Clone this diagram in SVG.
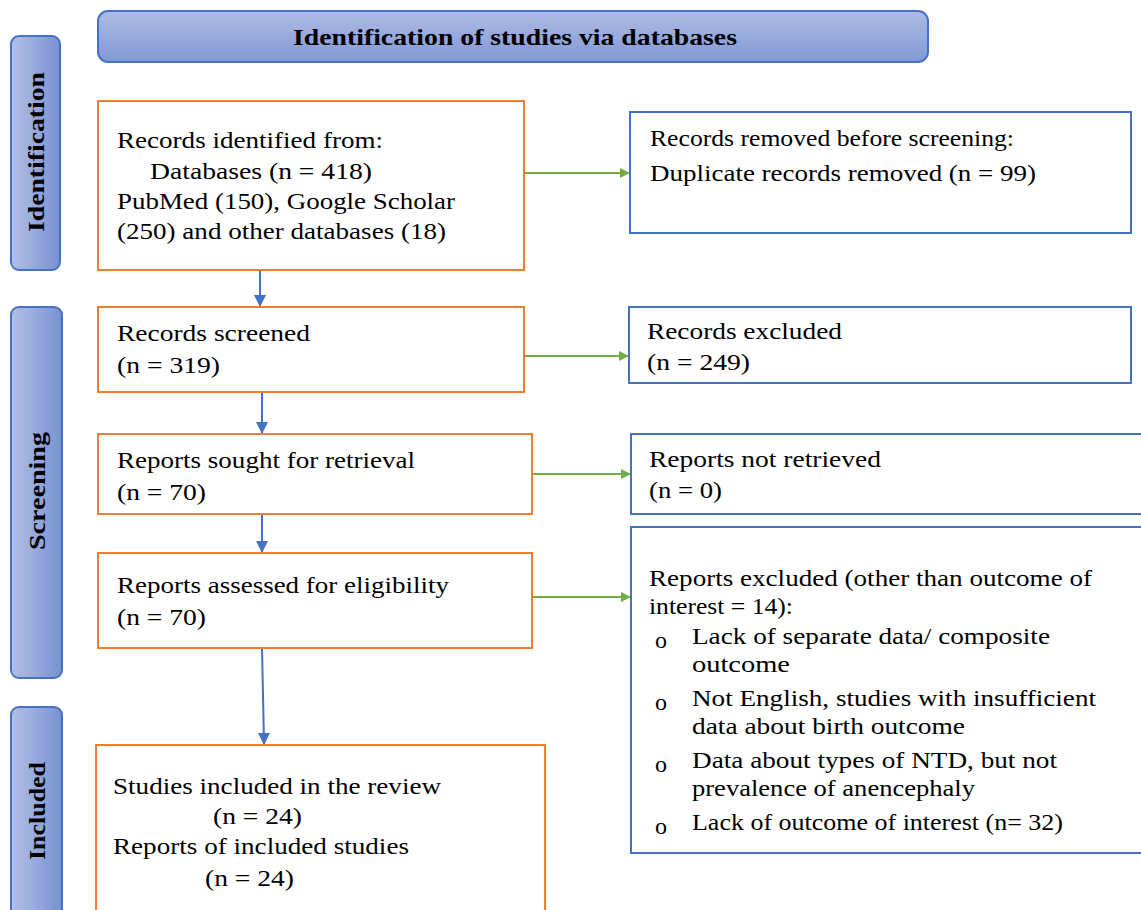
<svg xmlns="http://www.w3.org/2000/svg" width="1141" height="910" viewBox="0 0 1141 910">
<style>
.t{font-family:"Liberation Serif","Times New Roman",serif;font-size:24px;fill:#000}
.b{font-weight:bold}
.ob{fill:#fff;stroke:#ed7d31;stroke-width:2}
.bb{fill:#fff;stroke:#4472c4;stroke-width:2}
.side{fill:url(#gs);stroke:#4472c4;stroke-width:2}
.ga{stroke:#70ad47;stroke-width:2;fill:none;marker-end:url(#ag)}
.ba{stroke:#4472c4;stroke-width:2;fill:none;marker-end:url(#ab)}
</style>
<defs>
<linearGradient id="gs" x1="0" y1="0" x2="1" y2="0"><stop offset="0" stop-color="#b3c0e6"/><stop offset="1" stop-color="#7990d3"/></linearGradient>
<linearGradient id="gh" x1="0" y1="0" x2="0" y2="1"><stop offset="0" stop-color="#aebce4"/><stop offset="1" stop-color="#8197d6"/></linearGradient>
<marker id="ag" markerWidth="10" markerHeight="10" refX="9" refY="5" orient="auto" markerUnits="userSpaceOnUse"><path d="M0,0 L10,5 L0,10 Z" fill="#70ad47"/></marker>
<marker id="ab" markerWidth="12" markerHeight="12" refX="6" refY="11" orient="0" markerUnits="userSpaceOnUse"><path d="M0,0 L12,0 L6,12 Z" fill="#4472c4"/></marker>
</defs>
<rect width="1141" height="910" fill="#fff"/>
<g id="header"><rect x="98" y="11" width="830" height="51" rx="10" fill="url(#gh)" stroke="#4472c4" stroke-width="2"/><text class="t b" x="293" y="45" textLength="444" lengthAdjust="spacingAndGlyphs">Identification of studies via databases</text></g>
<g id="side-identification"><rect class="side" x="11" y="36" width="49" height="234" rx="8"/><text class="t b" transform="translate(44,232) rotate(-90)" textLength="160" lengthAdjust="spacingAndGlyphs">Identification</text></g>
<g id="side-screening"><rect class="side" x="11" y="307" width="51" height="371" rx="8"/><text class="t b" transform="translate(45,550) rotate(-90)" textLength="118" lengthAdjust="spacingAndGlyphs">Screening</text></g>
<g id="side-included"><rect class="side" x="11" y="707" width="51" height="220" rx="8"/><text class="t b" transform="translate(45,860) rotate(-90)" textLength="98" lengthAdjust="spacingAndGlyphs">Included</text></g>
<g id="connectors">
<line class="ga" x1="524" y1="173" x2="629" y2="173"/>
<line class="ga" x1="524" y1="356" x2="628" y2="356"/>
<line class="ga" x1="532" y1="474" x2="630" y2="474"/>
<line class="ga" x1="532" y1="597" x2="630" y2="597"/>
<line class="ba" x1="260" y1="270" x2="260" y2="306"/>
<line class="ba" x1="262" y1="392" x2="262" y2="433"/>
<line class="ba" x1="262" y1="514" x2="262" y2="552"/>
<line class="ba" x1="262" y1="648" x2="264" y2="744"/>
</g>
<g id="identified"><rect class="ob" x="98" y="101" width="426" height="169"/>
<text class="t" x="117" y="148" textLength="266" lengthAdjust="spacingAndGlyphs">Records identified from:</text>
<text class="t" x="150" y="179" textLength="222" lengthAdjust="spacingAndGlyphs">Databases (n = 418)</text>
<text class="t" x="117" y="209" textLength="338" lengthAdjust="spacingAndGlyphs">PubMed (150), Google Scholar</text>
<text class="t" x="117" y="239" textLength="329" lengthAdjust="spacingAndGlyphs">(250) and other databases (18)</text></g>
<g id="removed"><rect class="bb" x="630" y="112" width="501" height="121"/>
<text class="t" x="650" y="146" textLength="364" lengthAdjust="spacingAndGlyphs">Records removed before screening:</text>
<text class="t" x="650" y="181" textLength="386" lengthAdjust="spacingAndGlyphs">Duplicate records removed (n = 99)</text></g>
<g id="screened"><rect class="ob" x="98" y="307" width="426" height="85"/>
<text class="t" x="117" y="341" textLength="193" lengthAdjust="spacingAndGlyphs">Records screened</text>
<text class="t" x="117" y="373" textLength="103" lengthAdjust="spacingAndGlyphs">(n = 319)</text></g>
<g id="excluded"><rect class="bb" x="629" y="307" width="502" height="76"/>
<text class="t" x="647" y="339" textLength="195" lengthAdjust="spacingAndGlyphs">Records excluded</text>
<text class="t" x="647" y="370" textLength="103" lengthAdjust="spacingAndGlyphs">(n = 249)</text></g>
<g id="sought"><rect class="ob" x="98" y="434" width="434" height="80"/>
<text class="t" x="117" y="468" textLength="298" lengthAdjust="spacingAndGlyphs">Reports sought for retrieval</text>
<text class="t" x="117" y="500" textLength="89" lengthAdjust="spacingAndGlyphs">(n = 70)</text></g>
<g id="notretrieved"><rect class="bb" x="631" y="434" width="515" height="80"/>
<text class="t" x="649" y="467" textLength="232" lengthAdjust="spacingAndGlyphs">Reports not retrieved</text>
<text class="t" x="649" y="498" textLength="73" lengthAdjust="spacingAndGlyphs">(n = 0)</text></g>
<g id="assessed"><rect class="ob" x="98" y="553" width="434" height="95"/>
<text class="t" x="117" y="593" textLength="332" lengthAdjust="spacingAndGlyphs">Reports assessed for eligibility</text>
<text class="t" x="117" y="625" textLength="89" lengthAdjust="spacingAndGlyphs">(n = 70)</text></g>
<g id="reportsexcluded"><rect class="bb" x="631" y="527" width="515" height="326"/>
<text class="t" x="649" y="586" textLength="443" lengthAdjust="spacingAndGlyphs">Reports excluded (other than outcome of</text>
<text class="t" x="649" y="614" textLength="144" lengthAdjust="spacingAndGlyphs">interest = 14):</text>
<text class="t" x="655" y="648">o</text><text class="t" x="692" y="644" textLength="358" lengthAdjust="spacingAndGlyphs">Lack of separate data/ composite</text>
<text class="t" x="692" y="672" textLength="98" lengthAdjust="spacingAndGlyphs">outcome</text>
<text class="t" x="655" y="710">o</text><text class="t" x="692" y="706" textLength="404" lengthAdjust="spacingAndGlyphs">Not English, studies with insufficient</text>
<text class="t" x="692" y="734" textLength="273" lengthAdjust="spacingAndGlyphs">data about birth outcome</text>
<text class="t" x="655" y="772">o</text><text class="t" x="692" y="768" textLength="365" lengthAdjust="spacingAndGlyphs">Data about types of NTD, but not</text>
<text class="t" x="692" y="796" textLength="283" lengthAdjust="spacingAndGlyphs">prevalence of anencephaly</text>
<text class="t" x="655" y="834">o</text><text class="t" x="692" y="830" textLength="371" lengthAdjust="spacingAndGlyphs">Lack of outcome of interest (n= 32)</text></g>
<g id="included"><rect class="ob" x="96" y="745" width="449" height="180"/>
<text class="t" x="113" y="794" textLength="328" lengthAdjust="spacingAndGlyphs">Studies included in the review</text>
<text class="t" x="213" y="824" textLength="89" lengthAdjust="spacingAndGlyphs">(n = 24)</text>
<text class="t" x="113" y="854" textLength="296" lengthAdjust="spacingAndGlyphs">Reports of included studies</text>
<text class="t" x="205" y="886" textLength="89" lengthAdjust="spacingAndGlyphs">(n = 24)</text></g>
</svg>
